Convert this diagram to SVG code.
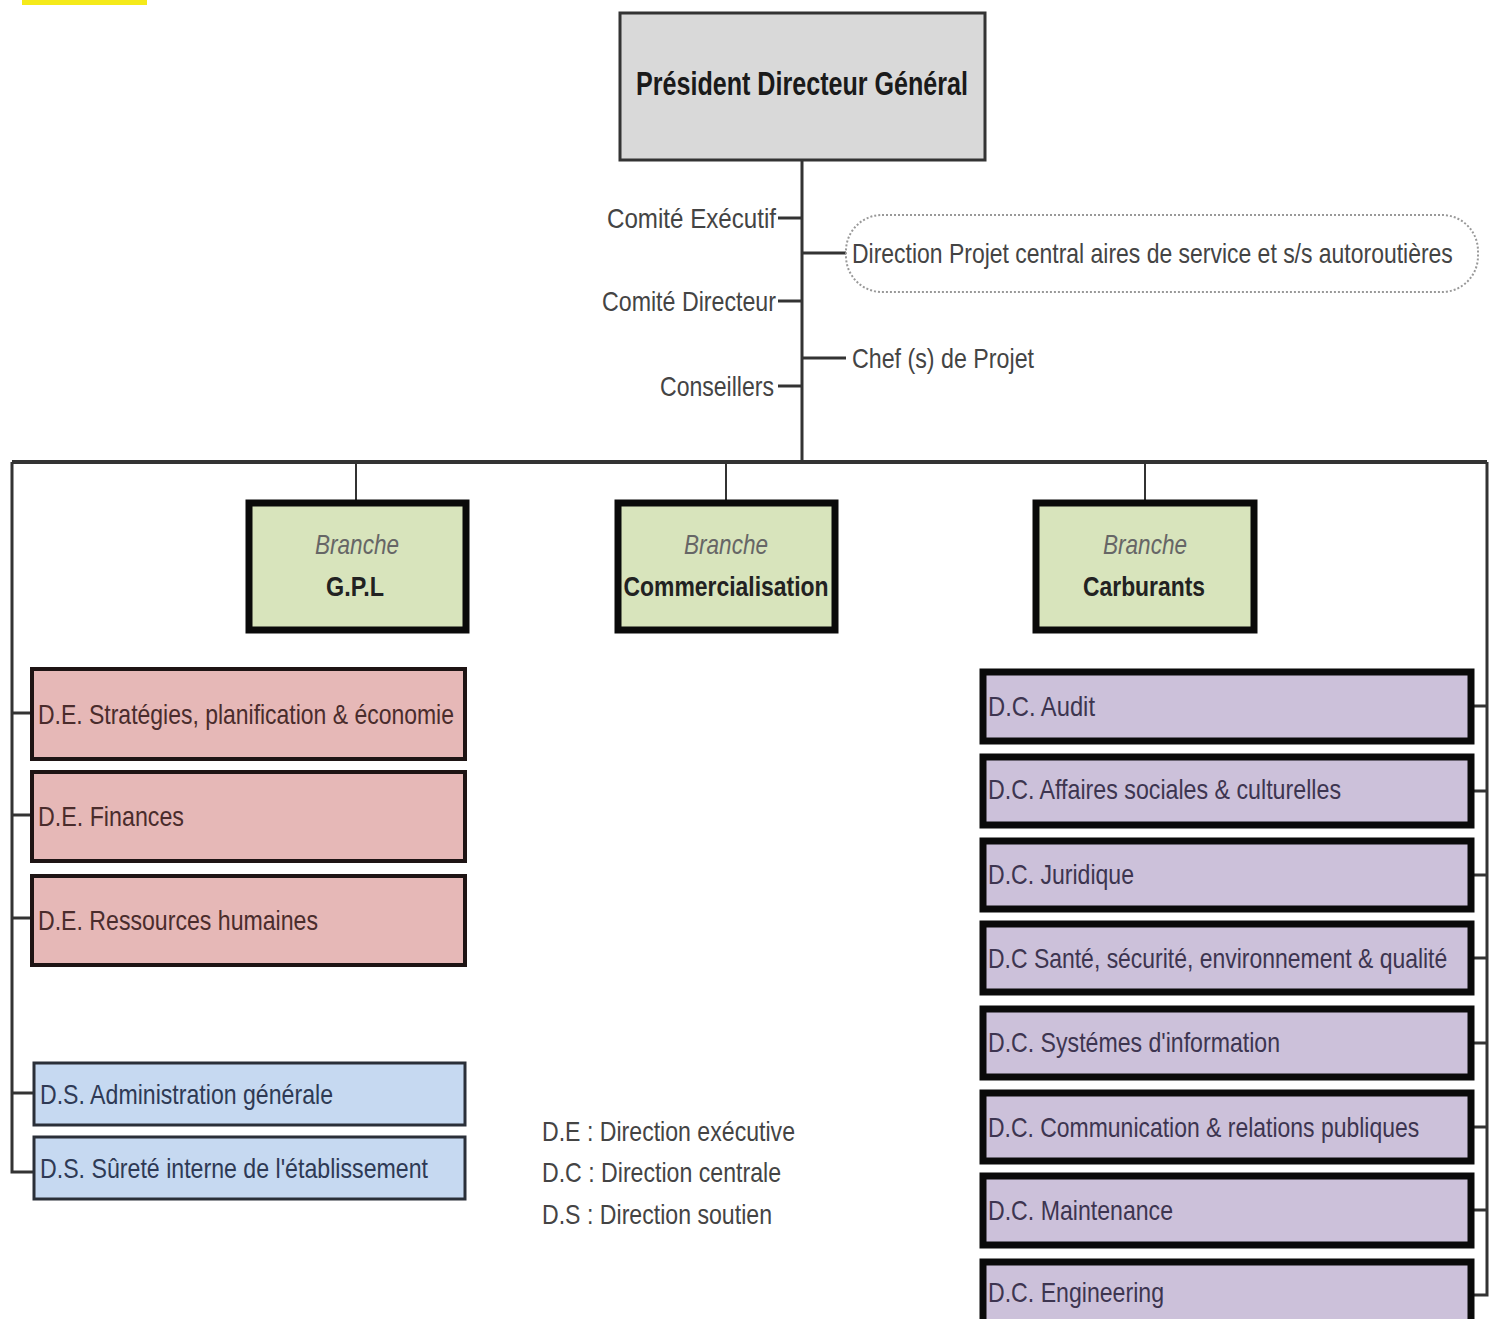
<svg xmlns="http://www.w3.org/2000/svg" width="1498" height="1319" viewBox="0 0 1498 1319">
<style>
  text { font-family: "Liberation Sans", Arial, sans-serif; }
  .lbl { font-size: 28px; fill: #444; }
  .bx { font-size: 28px; }
  .br1 { font-size: 28px; font-style: italic; fill: #666; }
  .br2 { font-size: 28px; font-weight: bold; fill: #222; }
  .conn { stroke: #333; fill: none; }
  .red rect { fill: #e6b8b7; stroke: #1e1414; stroke-width: 4; }
  .red text { fill: #4a2c2c; }
  .blue rect { fill: #c6d9f1; stroke: #2a2f38; stroke-width: 3; }
  .blue text { fill: #2e3a55; }
  .pur rect { fill: #ccc1da; stroke: #0a0a0a; stroke-width: 7; }
  .pur text { fill: #3d3550; }
  .brn rect { fill: #d8e4bc; stroke: #0a0a0a; stroke-width: 7; }
</style>
<rect width="1498" height="1319" fill="#fff"/>
<rect x="22" y="0" width="125" height="5" fill="#f5ea1a"/>

<g id="connectors">
  <line class="conn" x1="802" y1="160" x2="802" y2="462" stroke-width="3"/>
  <line class="conn" x1="778" y1="218" x2="802" y2="218" stroke-width="3"/>
  <line class="conn" x1="778" y1="301" x2="802" y2="301" stroke-width="3"/>
  <line class="conn" x1="778" y1="386" x2="802" y2="386" stroke-width="3"/>
  <line class="conn" x1="802" y1="253" x2="846" y2="253" stroke-width="3"/>
  <line class="conn" x1="802" y1="358" x2="846" y2="358" stroke-width="3"/>
  <line class="conn" x1="12" y1="462" x2="1487" y2="462" stroke-width="4"/>
  <line class="conn" x1="356" y1="462" x2="356" y2="502" stroke-width="2"/>
  <line class="conn" x1="726" y1="462" x2="726" y2="502" stroke-width="2"/>
  <line class="conn" x1="1145" y1="462" x2="1145" y2="502" stroke-width="2"/>
  <polyline class="conn" points="12,462 12,1172 33,1172" stroke-width="3"/>
  <line class="conn" x1="12" y1="713" x2="31" y2="713" stroke-width="3"/>
  <line class="conn" x1="12" y1="815" x2="31" y2="815" stroke-width="3"/>
  <line class="conn" x1="12" y1="918" x2="31" y2="918" stroke-width="3"/>
  <line class="conn" x1="12" y1="1093" x2="33" y2="1093" stroke-width="3"/>
  <polyline class="conn" points="1487,462 1487,1295 1472,1295" stroke-width="3"/>
  <line class="conn" x1="1472" y1="706" x2="1487" y2="706" stroke-width="3"/>
  <line class="conn" x1="1472" y1="791" x2="1487" y2="791" stroke-width="3"/>
  <line class="conn" x1="1472" y1="875" x2="1487" y2="875" stroke-width="3"/>
  <line class="conn" x1="1472" y1="958" x2="1487" y2="958" stroke-width="3"/>
  <line class="conn" x1="1472" y1="1043" x2="1487" y2="1043" stroke-width="3"/>
  <line class="conn" x1="1472" y1="1127" x2="1487" y2="1127" stroke-width="3"/>
  <line class="conn" x1="1472" y1="1210" x2="1487" y2="1210" stroke-width="3"/>
</g>

<g id="pdg">
  <rect x="620" y="13" width="365" height="147" fill="#d9d9d9" stroke="#333" stroke-width="3"/>
  <text x="802" y="95" text-anchor="middle" font-size="34" font-weight="bold" fill="#1a1a1a" textLength="332" lengthAdjust="spacingAndGlyphs">Président Directeur Général</text>
</g>

<g id="comite-executif"><text class="lbl" x="776" y="228" text-anchor="end" textLength="169" lengthAdjust="spacingAndGlyphs">Comité  Exécutif</text></g>
<g id="comite-directeur"><text class="lbl" x="776" y="311" text-anchor="end" textLength="174" lengthAdjust="spacingAndGlyphs">Comité Directeur</text></g>
<g id="conseillers"><text class="lbl" x="774" y="396" text-anchor="end" textLength="114" lengthAdjust="spacingAndGlyphs">Conseillers</text></g>
<g id="direction-projet">
  <rect x="846" y="215" width="632" height="77" rx="36" fill="none" stroke="#999" stroke-width="2" stroke-dasharray="2 2"/>
  <g transform="translate(852,263) scale(0.82,1)">
    <text class="lbl" x="0" y="0" font-size="27">Direction Projet central aires de service et s/s autoroutières</text>
  </g>
</g>
<g id="chef-projet"><text class="lbl" x="852" y="368" textLength="182" lengthAdjust="spacingAndGlyphs">Chef (s) de Projet</text></g>

<g id="branche-gpl" class="brn">
  <rect x="249" y="503" width="217" height="127"/>
  <text class="br1" x="357" y="554" text-anchor="middle" textLength="84" lengthAdjust="spacingAndGlyphs">Branche</text>
  <text class="br2" x="355" y="596" text-anchor="middle" textLength="58" lengthAdjust="spacingAndGlyphs">G.P.L</text>
</g>
<g id="branche-commercialisation" class="brn">
  <rect x="618" y="503" width="217" height="127"/>
  <text class="br1" x="726" y="554" text-anchor="middle" textLength="84" lengthAdjust="spacingAndGlyphs">Branche</text>
  <text class="br2" x="726" y="596" text-anchor="middle" textLength="205" lengthAdjust="spacingAndGlyphs">Commercialisation</text>
</g>
<g id="branche-carburants" class="brn">
  <rect x="1036" y="503" width="218" height="127"/>
  <text class="br1" x="1145" y="554" text-anchor="middle" textLength="84" lengthAdjust="spacingAndGlyphs">Branche</text>
  <text class="br2" x="1144" y="596" text-anchor="middle" textLength="122" lengthAdjust="spacingAndGlyphs">Carburants</text>
</g>

<g id="de-strategies" class="red">
  <rect x="32" y="669" width="433" height="90"/>
  <text class="bx" x="38" y="724" textLength="416" lengthAdjust="spacingAndGlyphs">D.E. Stratégies, planification &amp; économie</text>
</g>
<g id="de-finances" class="red">
  <rect x="32" y="772" width="433" height="89"/>
  <text class="bx" x="38" y="826" textLength="146" lengthAdjust="spacingAndGlyphs">D.E. Finances</text>
</g>
<g id="de-rh" class="red">
  <rect x="32" y="876" width="433" height="89"/>
  <text class="bx" x="38" y="930" textLength="280" lengthAdjust="spacingAndGlyphs">D.E. Ressources humaines</text>
</g>

<g id="ds-admin" class="blue">
  <rect x="34" y="1063" width="431" height="62"/>
  <text class="bx" x="40" y="1104" textLength="293" lengthAdjust="spacingAndGlyphs">D.S. Administration générale</text>
</g>
<g id="ds-surete" class="blue">
  <rect x="34" y="1137" width="431" height="62"/>
  <text class="bx" x="40" y="1178" textLength="388" lengthAdjust="spacingAndGlyphs">D.S. Sûreté interne de l'établissement</text>
</g>

<g id="legend">
  <text class="lbl" x="542" y="1141" textLength="253" lengthAdjust="spacingAndGlyphs">D.E : Direction exécutive</text>
  <text class="lbl" x="542" y="1182" textLength="239" lengthAdjust="spacingAndGlyphs">D.C : Direction centrale</text>
  <text class="lbl" x="542" y="1224" textLength="230" lengthAdjust="spacingAndGlyphs">D.S : Direction soutien</text>
</g>

<g id="dc-audit" class="pur">
  <rect x="983" y="672" width="488" height="69"/>
  <text class="bx" x="988" y="716" textLength="107" lengthAdjust="spacingAndGlyphs">D.C. Audit</text>
</g>
<g id="dc-affaires" class="pur">
  <rect x="983" y="757" width="488" height="68"/>
  <text class="bx" x="988" y="799" textLength="353" lengthAdjust="spacingAndGlyphs">D.C. Affaires sociales &amp; culturelles</text>
</g>
<g id="dc-juridique" class="pur">
  <rect x="983" y="841" width="488" height="68"/>
  <text class="bx" x="988" y="884" textLength="146" lengthAdjust="spacingAndGlyphs">D.C. Juridique</text>
</g>
<g id="dc-sante" class="pur">
  <rect x="983" y="924" width="488" height="68"/>
  <g transform="translate(988,968) scale(0.82,1)">
    <text class="bx" x="0" y="0" font-size="27">D.C Santé, sécurité, environnement &amp; qualité</text>
  </g>
</g>
<g id="dc-systemes" class="pur">
  <rect x="983" y="1009" width="488" height="68"/>
  <text class="bx" x="988" y="1052" textLength="292" lengthAdjust="spacingAndGlyphs">D.C. Systémes d'information</text>
</g>
<g id="dc-communication" class="pur">
  <rect x="983" y="1093" width="488" height="68"/>
  <g transform="translate(988,1137) scale(0.82,1)">
    <text class="bx" x="0" y="0" font-size="27">D.C. Communication &amp; relations publiques</text>
  </g>
</g>
<g id="dc-maintenance" class="pur">
  <rect x="983" y="1176" width="488" height="69"/>
  <text class="bx" x="988" y="1220" textLength="185" lengthAdjust="spacingAndGlyphs">D.C. Maintenance</text>
</g>
<g id="dc-engineering" class="pur">
  <rect x="983" y="1262" width="488" height="70"/>
  <text class="bx" x="988" y="1302" textLength="176" lengthAdjust="spacingAndGlyphs">D.C. Engineering</text>
</g>
</svg>
